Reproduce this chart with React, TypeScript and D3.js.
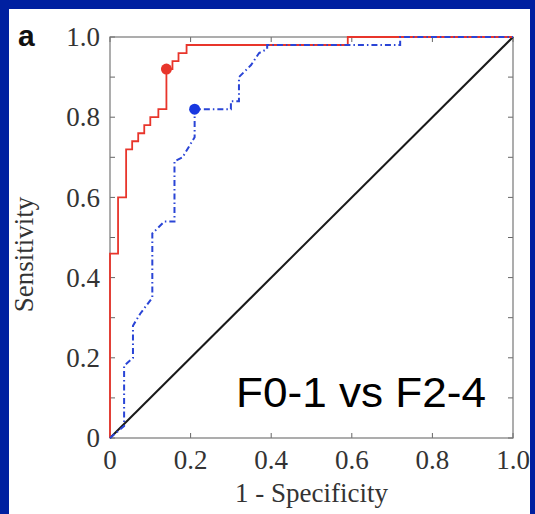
import React from 'react';
import * as d3 from 'd3';

const redFpr = [0, 0, 0.02, 0.02, 0.04, 0.04, 0.055, 0.055, 0.07, 0.07, 0.085, 0.085, 0.1, 0.1, 0.12, 0.12, 0.14, 0.14, 0.155, 0.155, 0.17, 0.17, 0.19, 0.19, 0.59, 0.59, 1.0];
const redTpr = [0, 0.46, 0.46, 0.6, 0.6, 0.72, 0.72, 0.74, 0.74, 0.76, 0.76, 0.78, 0.78, 0.8, 0.8, 0.82, 0.82, 0.92, 0.92, 0.94, 0.94, 0.96, 0.96, 0.98, 0.98, 1.0, 1.0];

const blueFpr = [0, 0.035, 0.035, 0.057, 0.057, 0.075, 0.09, 0.105, 0.105, 0.135, 0.16, 0.16, 0.18, 0.21, 0.21, 0.3, 0.3, 0.32, 0.32, 0.35, 0.37, 0.39, 0.39, 0.72, 0.72, 1.0];
const blueTpr = [0, 0.03, 0.18, 0.2, 0.28, 0.31, 0.33, 0.35, 0.51, 0.54, 0.54, 0.69, 0.7, 0.75, 0.82, 0.82, 0.84, 0.84, 0.9, 0.93, 0.96, 0.97, 0.98, 0.98, 1.0, 1.0];

const redMarker = [0.14, 0.92];
const blueMarker = [0.21, 0.82];

const xTickLabels = ['0', '0.2', '0.4', '0.6', '0.8', '1.0'];
const yTickLabels = ['0', '0.2', '0.4', '0.6', '0.8', '1.0'];
const xTicks = [0, 0.2, 0.4, 0.6, 0.8, 1.0];
const yTicks = [0, 0.1, 0.2, 0.3, 0.4, 0.5, 0.6, 0.7, 0.8, 0.9, 1.0];

const W = 535;
const H = 514;
const L = 110, R = 513, T = 37, B = 438;

export default function App() {
  const x = d3.scaleLinear().domain([0, 1]).range([L, R]);
  const y = d3.scaleLinear().domain([0, 1]).range([B, T]);
  const line = d3.line<number[]>().x(d => x(d[0])).y(d => y(d[1]));
  const red = redFpr.map((f, i) => [f, redTpr[i]]);
  const blue = blueFpr.map((f, i) => [f, blueTpr[i]]);
  const serif = '"Liberation Serif", "Times New Roman", serif';
  const sans = '"Liberation Sans", Arial, sans-serif';
  return (
    <svg width={W} height={H} style={{ position: 'fixed', left: 0, top: 0 }}>
      <rect x={0} y={0} width={W} height={H} fill="#0020a0" />
      <rect x={9} y={9} width={521} height={H - 9} fill="#ffffff" />
      {xTicks.map((t, i) => (
        <g key={'xt' + i} stroke="#666" strokeWidth={1}>
          <line x1={x(t)} x2={x(t)} y1={B} y2={B - 5} />
          <line x1={x(t)} x2={x(t)} y1={T} y2={T + 5} />
        </g>
      ))}
      {yTicks.map((t, i) => (
        <g key={'yt' + i} stroke="#666" strokeWidth={1}>
          <line x1={L} x2={L + 5} y1={y(t)} y2={y(t)} />
          <line x1={R} x2={R - 5} y1={y(t)} y2={y(t)} />
        </g>
      ))}
      <rect x={L} y={T} width={R - L} height={B - T} fill="none" stroke="#777" strokeWidth={1.2} />
      <path d={line([[0, 0], [1, 1]]) || ''} stroke="#1a1a1a" strokeWidth={2} fill="none" />
      <path d={line(red) || ''} stroke="#e8352b" strokeWidth={1.8} fill="none" />
      <path d={line(blue) || ''} stroke="#2a45d6" strokeWidth={2} fill="none" strokeDasharray="6,3,1.5,3" />
      <circle cx={x(redMarker[0])} cy={y(redMarker[1])} r={5.5} fill="#e8352b" />
      <circle cx={x(blueMarker[0])} cy={y(blueMarker[1])} r={5.5} fill="#1838e0" />
      {xTicks.map((t, i) => (
        <text key={'xl' + i} x={x(t)} y={469} textAnchor="middle" fontFamily={serif} fontSize={27} fill="#333">{xTickLabels[i]}</text>
      ))}
      {yTicks.filter((_, i) => i % 2 === 0).map((t, i) => (
        <text key={'yl' + i} x={100} y={y(t)} dy="0.34em" textAnchor="end" fontFamily={serif} fontSize={27} fill="#333">{yTickLabels[i]}</text>
      ))}
      <text x={(L + R) / 2} y={502} textAnchor="middle" fontFamily={serif} fontSize={27} fill="#333">1 - Specificity</text>
      <text transform={`translate(33,${(T + B) / 2 + 17}) rotate(-90)`} textAnchor="middle" fontFamily={serif} fontSize={27} fill="#333">Sensitivity</text>
      <text x={18} y={46} fontFamily={sans} fontWeight="bold" fontSize={30} fill="#111">a</text>
      <text x={236} y={407} fontFamily={sans} fontSize={42} fill="#000" textLength={250} lengthAdjust="spacingAndGlyphs">F0-1 vs F2-4</text>
    </svg>
  );
}
